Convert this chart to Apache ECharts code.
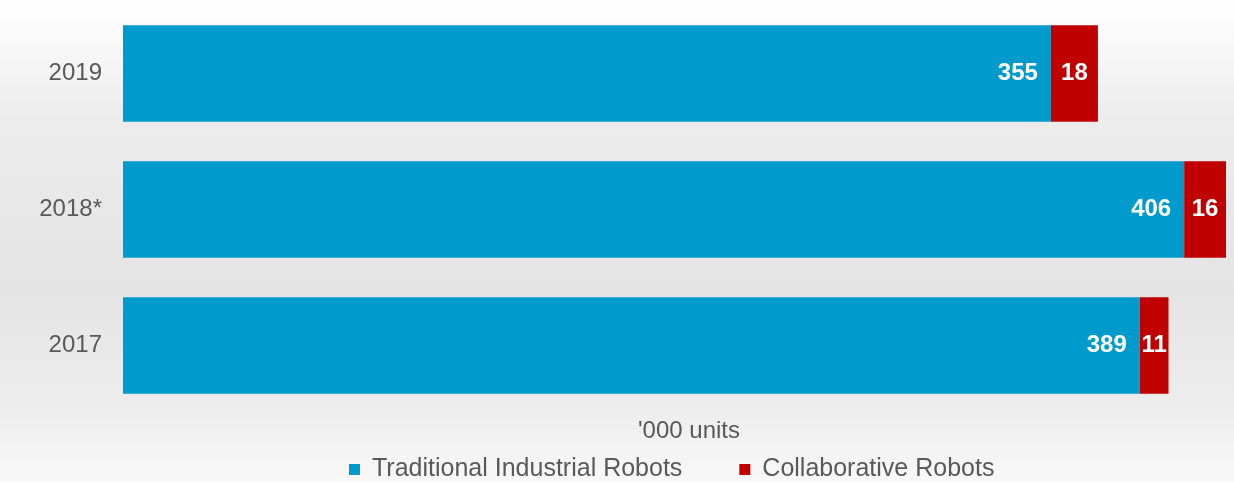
<!DOCTYPE html>
<html>
<head>
<meta charset="utf-8">
<script src="https://cdn.jsdelivr.net/npm/echarts@6/dist/echarts.min.js"></script>
<style>html,body{margin:0;padding:0;}#c{width:1234px;height:482px;}</style>
</head>
<body>
<div id="c"></div>
<script>
const categories = ['2017', '2018*', '2019'];
const traditional = [389, 406, 355];
const collaborative = [11, 16, 18];
const seriesNames = ['Traditional Industrial Robots', 'Collaborative Robots'];
const unitLabel = "'000 units";

const chart = echarts.init(document.getElementById('c'));
const labelStyle = { color: '#ffffff', fontWeight: 'bold', fontSize: 24, fontFamily: 'Liberation Sans, Arial, sans-serif' };
chart.setOption({
  animation: false,
  backgroundColor: {
    type: 'linear', x: 0, y: 0, x2: 0, y2: 1,
    colorStops: [
      { offset: 0, color: '#ffffff' },
      { offset: 0.25, color: '#ececec' },
      { offset: 0.6, color: '#e4e4e4' },
      { offset: 0.85, color: '#ededed' },
      { offset: 1, color: '#f8f8f8' }
    ]
  },
  textStyle: { fontFamily: 'Liberation Sans, Arial, sans-serif' },
  grid: { left: 123, right: 8, top: 5.5, height: 408, containLabel: false },
  xAxis: { type: 'value', min: 0, max: 422, show: false },
  yAxis: {
    type: 'category', data: categories,
    axisLine: { show: false }, axisTick: { show: false },
    axisLabel: { color: '#595959', fontSize: 24, margin: 21 }
  },
  legend: {
    top: 452, left: 344,
    itemWidth: 11, itemHeight: 11, itemGap: 57, icon: 'rect',
    textStyle: { color: '#595959', fontSize: 25, padding: [0, 0, 0, 7] },
    data: seriesNames
  },
  title: {
    text: unitLabel, left: 633, top: 414,
    textStyle: { color: '#595959', fontSize: 24, fontWeight: 'normal' }
  },
  series: [
    {
      name: seriesNames[0], type: 'bar', stack: 'a', data: traditional,
      barWidth: '71%', itemStyle: { color: '#009acd' },
      label: Object.assign({ show: true, position: 'insideRight', distance: 13 }, labelStyle)
    },
    {
      name: seriesNames[1], type: 'bar', stack: 'a', data: collaborative,
      itemStyle: { color: '#c00000' },
      label: Object.assign({ show: true, position: 'inside' }, labelStyle)
    }
  ]
});
</script>
</body>
</html>
